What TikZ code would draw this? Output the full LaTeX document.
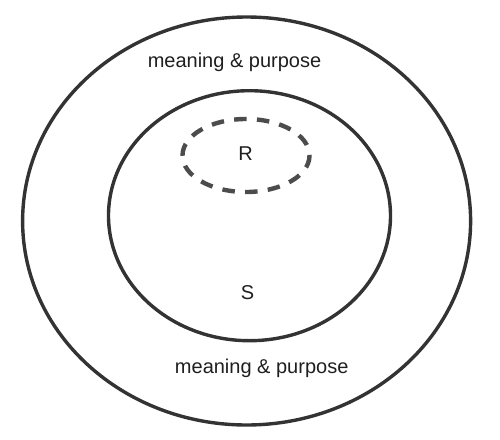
\documentclass[tikz,border=0pt]{standalone}
\usepackage{fontspec}
\setmainfont{Liberation Sans}

\begin{document}
\begin{tikzpicture}[x=1pt,y=-1pt,
    ring/.style={line width=3.4pt,draw=black!80},
    ringtext/.style={font=\fontsize{20}{24}\selectfont,text=black!88,inner sep=0pt}]
  \useasboundingbox (0,0) rectangle (500,439);
  % outer and inner rings
  \draw[ring] (246.6,221) ellipse [x radius=224, y radius=204];
  \draw[ring] (249.5,215.7) ellipse [x radius=141, y radius=125];
  % dashed region R
  \draw[line width=4.4pt,draw=black!70,dash pattern=on 12.5pt off 10.3pt]
    (246,155.5) ellipse [x radius=63.5, y radius=36.5];
  \node[ringtext] (mpTop) at (234.5,62) {meaning \& purpose};
  \node[ringtext] (mpBot) at (261.7,368) {meaning \& purpose};
  \node[ringtext] (r) at (245.5,154) {R};
  \node[ringtext] (s) at (247.5,293) {S};
\end{tikzpicture}
\end{document}
